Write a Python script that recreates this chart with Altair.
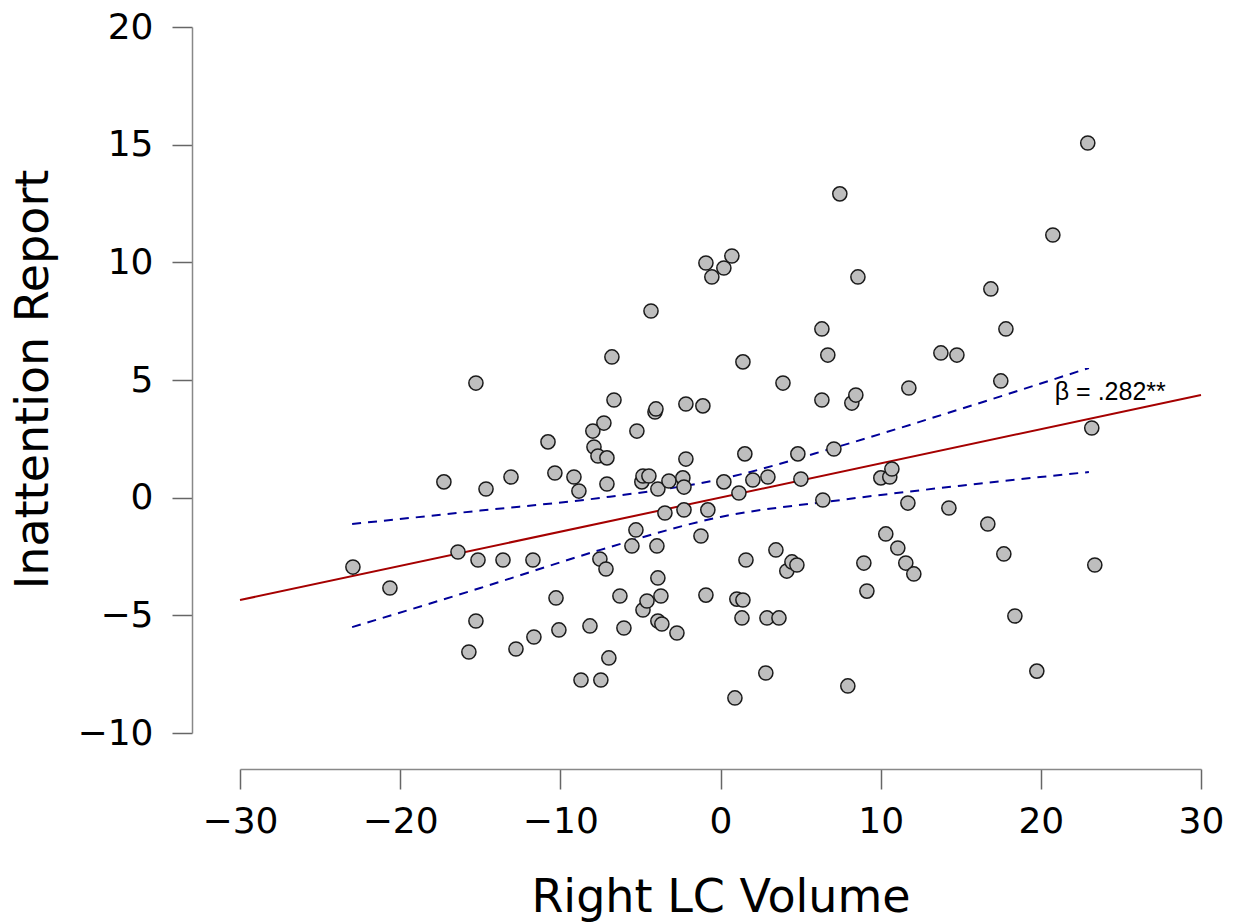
import altair as alt
import pandas as pd

# Right LC Volume (x) and Inattention Report (y)
lc_volume = [
    -22.95, -20.64, -17.27, -16.39, -15.27, -15.14, -15.27, -15.71, -14.64, -13.58,
    -13.08, -12.77, -11.71, -11.65, -10.77, -10.34, -10.27, -10.09, -9.15, -8.84,
    -8.71, -8.15, -7.97, -7.90, -7.65, -7.53, -7.47, -7.28, -7.15, -7.09,
    -7.09, -6.97, -6.78, -6.65, -6.28, -6.03, -5.53, -5.28, -5.22, -4.91,
    -4.84, -4.84, -4.59, -4.47, -4.34, -4.09, -4.03, -3.97, -3.91, -3.91,
    -3.91, -3.66, -3.72, -3.47, -3.22, -2.72, -2.35, -2.28, -2.28, -2.16,
    -2.16, -1.22, -1.10, -0.91, -0.91, -0.79, -0.54, 0.21, 0.21, 0.71,
    0.90, 1.02, 1.15, 1.34, 1.40, 1.40, 1.52, 1.59, 2.02, 2.83,
    2.90, 2.96, 3.46, 3.65, 3.90, 4.14, 4.46, 4.77, 4.83, 5.02,
    6.33, 6.33, 6.39, 6.70, 7.08, 7.45, 7.95, 8.20, 8.45, 8.58,
    8.95, 9.14, 10.01, 10.32, 10.57, 10.70, 11.07, 11.57, 11.70, 11.76,
    12.07, 13.76, 14.26, 14.76, 16.69, 16.88, 17.50, 17.69, 17.82, 18.38,
    19.75, 20.75, 22.93, 23.18, 23.37,
]
inattention = [
    -2.95, -3.84, 0.67, -2.31, 4.87, -2.65, -5.24, -6.56, 0.37, -2.65,
    0.88, -6.43, -2.65, -5.92, 2.37, 1.05, -4.26, -5.62, 0.88, 0.28,
    -7.75, -5.45, 2.83, 2.15, 1.77, -2.61, -7.75, 3.17, -3.03, 1.69,
    0.58, -6.81, 5.98, 4.15, -4.18, -5.54, -2.05, -1.37, 2.83, 0.67,
    0.92, -4.77, -4.39, 0.92, 7.93, 3.64, 3.77, -2.05, 0.37, -3.41,
    -5.24, -5.37, -4.18, -0.65, 0.71, -5.75, 0.84, 0.45, -0.52, 3.98,
    1.64, -1.63, 3.90, 9.97, -4.14, -0.52, 9.38, 0.67, 9.76, 10.27,
    -8.51, -4.31, 0.20, -5.11, -4.35, 5.77, 1.86, -2.65, 0.75, -7.45,
    -5.11, 0.88, -2.22, -5.11, 4.87, -3.12, -2.73, -2.86, 1.86, 0.79,
    7.17, 4.15, -0.10, 6.06, 2.07, 12.91, -8.00, 4.02, 4.36, 9.38,
    -2.78, -3.97, 0.84, -1.54, 0.88, 1.22, -2.14, -2.78, -0.23, 4.66,
    -3.24, 6.15, -0.44, 6.06, -1.12, 8.87, 4.96, -2.39, 7.17, -5.03,
    -7.37, 11.16, 15.07, 2.96, -2.86,
]

# fitted regression line
fit_x = [-30, 30]
fit_y = [-4.35, 4.36]

# confidence band (dashed)
ci_x = [-23, -15, -7.5, 0, 7.5, 15, 23]
ci_upper = [-1.12, -0.55, -0.01, 0.79, 2.20, 3.77, 5.51]
ci_lower = [-5.50, -3.84, -2.22, -0.82, -0.10, 0.51, 1.09]

annot_x = [20.87]
annot_y = [4.15]
annot_text = ["β = .282**"]

x_ticks = [-30, -20, -10, 0, 10, 20, 30]
y_ticks = [-10, -5, 0, 5, 10, 15, 20]

pts = pd.DataFrame({"x": lc_volume, "y": inattention})
fit = pd.DataFrame({"x": fit_x, "y": fit_y})
ci = pd.concat([
    pd.DataFrame({"x": ci_x, "y": ci_upper, "band": "upper"}),
    pd.DataFrame({"x": ci_x, "y": ci_lower, "band": "lower"}),
])
annot = pd.DataFrame({"x": annot_x, "y": annot_y, "t": annot_text})

FONT = "DejaVu Sans"
xscale = alt.Scale(domain=[-30, 30], nice=False, zero=False)
yscale = alt.Scale(domain=[-10, 20], nice=False, zero=False)

xaxis = alt.Axis(
    title="Right LC Volume", values=x_ticks, format="d", offset=36, grid=False,
    tickSize=20, tickWidth=1.5, tickColor="#666666",
    domainColor="#888888", domainWidth=1.5,
    labelFont=FONT, labelFontSize=36, labelColor="#000000", labelPadding=15,
    labelFlush=False, labelOverlap=False,
    titleFont=FONT, titleFontSize=46, titleFontWeight="normal", titleColor="#000000",
    titleY=142, titleBaseline="alphabetic",
)
yaxis = alt.Axis(
    title="Inattention Report", values=y_ticks, format="d", offset=48, grid=False,
    tickSize=20, tickWidth=1.5, tickColor="#666666",
    domainColor="#888888", domainWidth=1.5,
    labelFont=FONT, labelFontSize=36, labelColor="#000000", labelPadding=19,
    labelFlush=False, labelOverlap=False,
    titleFont=FONT, titleFontSize=46, titleFontWeight="normal", titleColor="#000000",
    titleX=-145, titleY=352, titleBaseline="alphabetic", titleAngle=270,
)

X = alt.X("x:Q", scale=xscale, axis=xaxis)
Y = alt.Y("y:Q", scale=yscale, axis=yaxis)

ci_lines = alt.Chart(ci).mark_line(
    color="#000099", strokeWidth=2, strokeDash=[9, 7], interpolate="monotone"
).encode(
    x=alt.X("x:Q", scale=xscale), y=alt.Y("y:Q", scale=yscale), detail="band:N"
)

fit_line = alt.Chart(fit).mark_line(color="#a50000", strokeWidth=2).encode(
    x=alt.X("x:Q", scale=xscale), y=alt.Y("y:Q", scale=yscale)
)

points = alt.Chart(pts).mark_point(
    shape="circle", filled=True, fill="#bebebe", stroke="#1a1a1a",
    strokeWidth=1.5, size=200, opacity=1, fillOpacity=1, strokeOpacity=1
).encode(x=X, y=Y)

label = alt.Chart(annot).mark_text(
    font="Liberation Sans", fontSize=25, align="left", baseline="alphabetic", color="#000000"
).encode(
    x=alt.X("x:Q", scale=xscale), y=alt.Y("y:Q", scale=yscale), text="t:N"
)

chart = alt.layer(ci_lines, fit_line, points, label).properties(
    width=961, height=706,
    background="white",
    autosize=alt.AutoSizeParams(type="none"),
    padding={"left": 232, "top": 19, "right": 25, "bottom": 191},
).configure_view(strokeWidth=0, stroke="transparent")

chart.save("out.html", embed_options={"renderer": "svg", "actions": False})
